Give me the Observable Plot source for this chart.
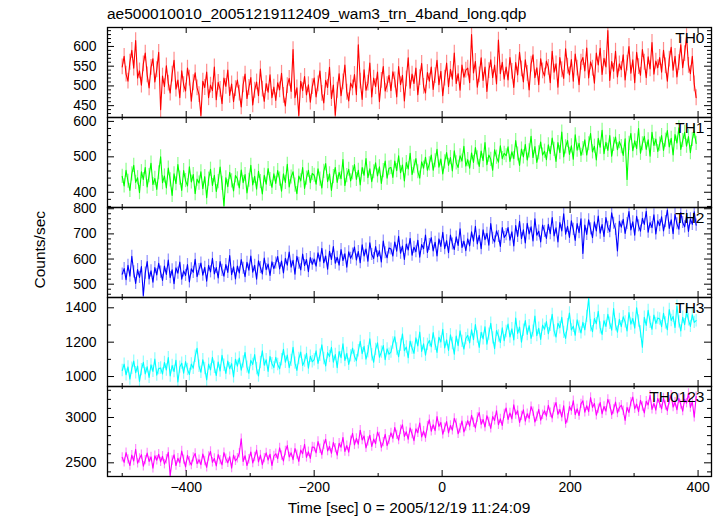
<!DOCTYPE html>
<html><head><meta charset="utf-8">
<script src="https://cdn.jsdelivr.net/npm/d3@7"></script>
<script src="https://cdn.jsdelivr.net/npm/@observablehq/plot@0.6"></script>
<style>
body{margin:0;background:#fff;font-family:"Liberation Sans",Arial,sans-serif;}
#chart{position:relative;width:724px;height:516px;overflow:hidden;background:#fff;}
.panel{position:absolute;left:0;}
.lbl{position:absolute;white-space:nowrap;line-height:1;color:#000;}
</style></head><body><div id="chart"></div>
<script>
const title = "ae500010010_20051219112409_wam3_trn_4band_long.qdp";
const xLabel = "Time [sec] 0 = 2005/12/19 11:24:09";
const yLabel = "Counts/sec";
const bands = ["TH0", "TH1", "TH2", "TH3", "TH0123"];
const colors = ["#ff0000", "#00ff00", "#0000ff", "#00ffff", "#ff00ff"];
const binStart = -500, binStep = 3;

const th0 = [
548,575,530,512,560,590,545,615,520,538,502,556,583,528,495,547,569,510,541,585,
440,525,498,551,507,482,530,565,492,515,470,538,503,487,545,520,461,508,533,495,
478,425,512,496,535,470,502,488,548,465,509,491,455,520,499,540,476,505,460,493,
515,482,447,503,530,468,496,521,452,489,510,475,543,492,461,506,484,528,470,497,
463,508,490,532,476,449,501,519,486,592,470,495,425,512,488,524,477,503,459,498,
520,472,505,538,481,457,514,496,547,468,502,426,489,531,475,510,553,484,462,507,
495,529,478,604,512,466,541,489,507,558,472,520,498,535,460,514,549,487,503,527,
488,536,515,472,549,503,527,462,518,571,494,530,506,545,478,521,557,499,482,534,
512,548,491,526,565,503,537,475,520,558,498,542,517,583,506,531,489,553,522,540,
545,508,630,533,562,497,528,571,514,548,486,539,566,521,553,505,616,531,560,517,
548,515,572,537,496,559,528,585,543,510,566,532,490,555,579,521,546,503,569,538,
525,563,547,508,588,535,556,497,572,541,519,594,550,528,567,512,581,545,503,560,
572,538,596,520,561,545,507,583,553,595,529,570,548,640,514,562,537,588,523,556,
541,579,515,558,600,532,566,508,585,549,527,592,560,521,574,543,610,530,563,546,
572,535,590,551,512,568,598,540,575,523,559,604,546,582,625,552,531,575,505,470];
const th1 = [
445,418,462,431,405,452,476,428,441,399,458,436,470,415,447,482,422,439,408,455,
500,427,446,412,468,435,391,452,424,478,440,405,461,433,418,472,429,450,396,437,
426,458,410,444,385,437,465,419,448,402,430,471,425,362,441,416,456,432,404,447,
438,412,463,427,450,398,434,476,421,445,409,459,430,395,448,423,467,436,414,452,
425,461,437,403,452,428,479,415,443,458,420,396,446,432,470,411,440,462,427,453,
448,423,466,437,412,459,481,430,452,405,444,470,428,456,438,492,419,447,465,432,
455,478,436,462,421,470,448,495,441,466,430,458,483,446,472,425,461,488,440,468,
470,442,488,461,503,455,477,432,484,466,510,450,472,495,458,440,486,468,499,462,
480,505,462,489,521,471,494,452,486,512,476,498,460,517,483,470,503,488,530,474,
492,468,511,484,526,497,473,516,489,540,478,505,493,462,520,499,485,531,495,510,
503,528,487,514,495,546,508,476,522,500,535,491,517,558,498,529,484,511,542,505,
516,492,534,509,553,521,487,540,512,570,500,528,546,507,531,493,562,519,538,504,
523,548,505,537,566,514,530,491,552,527,575,509,541,518,560,502,535,556,520,543,
529,504,551,436,538,566,517,545,523,580,510,537,558,521,548,502,569,532,550,515,
536,560,518,547,574,528,552,505,563,539,582,521,546,569,530,557,512,549,571,538];
const th2 = [
540,562,518,575,532,611,549,503,558,527,570,455,544,590,521,553,508,566,537,583,
548,515,572,539,596,526,557,502,565,544,588,520,553,535,578,509,561,547,599,530,
558,584,536,567,512,575,549,603,541,566,525,590,555,532,578,547,614,538,569,521,
572,545,598,563,530,587,556,612,548,575,520,593,566,541,604,558,580,535,589,562,
584,610,561,592,545,603,576,628,568,595,540,611,583,557,620,574,598,550,606,579,
600,572,625,591,643,585,612,560,631,598,650,583,607,576,638,594,621,568,629,603,
620,648,596,630,585,657,612,640,591,665,618,602,650,609,633,588,672,625,605,644,
640,612,668,631,690,623,652,598,660,636,682,615,647,629,675,607,658,641,695,626,
658,685,632,667,612,680,650,706,641,673,625,695,660,638,688,654,720,646,671,633,
680,652,708,671,730,660,694,641,716,677,702,655,741,683,668,712,690,650,725,686,
697,725,675,708,652,733,690,750,681,716,664,742,700,728,672,760,695,711,668,735,
710,682,738,701,765,692,724,668,745,712,780,699,730,686,752,718,674,741,705,760,
622,735,698,756,720,685,748,712,771,703,737,690,765,726,709,784,742,718,632,750,
727,758,702,741,789,716,748,695,770,732,711,762,738,790,707,745,725,776,700,752,
733,768,712,749,795,722,756,701,778,740,719,785,745,728,771,710,760,738,788,735];
const th3 = [
1035,1072,1010,1056,985,1048,1090,1022,1061,972,1040,1083,1015,1057,995,1068,1030,1102,1008,1046,
1050,1015,1082,1038,1110,1003,1064,1029,1095,968,1055,1078,1020,1087,1041,1012,1073,1048,1118,1165,
1060,1025,1098,1047,980,1072,1039,1112,1054,1006,1085,1032,1123,1066,1018,1090,1045,1075,998,1101,
1060,1108,1037,1085,1140,1055,1019,1094,1070,1128,1046,1003,1082,1150,1066,1098,1030,1117,1075,1052,
1112,1070,1045,1098,1158,1083,1125,1052,1094,1170,1078,1036,1105,1142,1064,1090,1135,1049,1118,1086,
1098,1150,1076,1124,1185,1105,1062,1139,1117,1170,1084,1128,1052,1146,1110,1191,1093,1135,1071,1120,
1165,1118,1092,1150,1205,1133,1176,1101,1144,1220,1127,1083,1158,1196,1112,1142,1180,1098,1161,1130,
1142,1195,1231,1160,1115,1183,1248,1150,1172,1109,1206,1166,1135,1225,1178,1259,1146,1190,1124,1187,
1210,1173,1256,1188,1140,1229,1201,1275,1167,1214,1152,1243,1192,1130,1235,1180,1266,1205,1160,1221,
1240,1196,1272,1214,1303,1230,1170,1258,1219,1290,1188,1247,1310,1225,1162,1268,1236,1198,1284,1209,
1262,1305,1230,1278,1213,1340,1251,1288,1200,1270,1326,1245,1296,1222,1264,1352,1238,1281,1216,1299,
1275,1320,1249,1298,1362,1266,1230,1310,1284,1345,1257,1222,1302,1370,1271,1293,1240,1330,1288,1254,
1315,1272,1350,1455,1296,1261,1338,1307,1380,1283,1245,1325,1292,1362,1310,1270,1395,1301,1258,1333,
1290,1348,1318,1265,1372,1305,1338,1282,1400,1323,1260,1170,1345,1298,1385,1315,1275,1358,1309,1340,
1335,1290,1368,1312,1272,1390,1326,1350,1285,1410,1318,1265,1345,1302,1376,1330,1292,1360,1315,1325];
const th0123 = [
2560,2505,2612,2538,2470,2585,2520,2650,2495,2548,2590,2462,2530,2608,2515,2565,2440,2577,2528,2595,
2510,2572,2485,2540,2615,2360,2525,2588,2470,2550,2500,2630,2535,2455,2582,2518,2475,2560,2602,2490,
2535,2480,2598,2520,2450,2570,2625,2505,2548,2465,2590,2530,2478,2612,2545,2500,2568,2442,2585,2522,
2550,2605,2765,2515,2578,2470,2540,2620,2498,2565,2640,2510,2585,2480,2552,2610,2530,2595,2470,2575,
2600,2545,2665,2580,2520,2630,2690,2565,2610,2535,2658,2590,2515,2640,2600,2705,2560,2622,2548,2675,
2670,2610,2735,2655,2590,2700,2760,2630,2680,2605,2725,2662,2585,2715,2672,2780,2625,2690,2618,2745,
2825,2698,2770,2705,2860,2752,2795,2665,2738,2805,2680,2762,2710,2840,2785,2670,2728,2815,2690,2750,
2830,2770,2890,2808,2750,2865,2920,2790,2842,2760,2885,2818,2745,2875,2832,2940,2785,2850,2778,2905,
2975,2848,2920,2855,3010,2902,2945,2815,2888,2955,2830,2912,2860,2990,2935,2820,2878,2962,2840,2900,
2965,2905,3025,2942,2885,3000,3055,2925,2978,2895,3020,2952,2880,3010,2968,3075,2920,2985,2912,3040,
3105,2978,3050,2985,3140,3032,3075,2945,3018,3085,2960,3042,2990,3120,3065,2950,3008,3090,2970,3030,
3075,3015,3135,3052,2995,3110,3165,3035,3088,3005,3130,2934,2990,3120,3078,3185,3030,3095,3022,3150,
3185,3058,3130,3065,3220,3112,3155,3025,3098,3165,3040,3122,3070,3200,3145,3030,3088,3170,3050,3110,
3135,3075,2967,3112,3055,3170,3225,3095,3148,3065,3190,3122,3050,3180,3138,3245,3090,3155,3082,3210,
3155,3095,3215,3132,3075,3190,3245,3115,3168,3085,3210,3142,3070,3200,3158,3265,3110,3175,3003,3230];
const errors = [20, 20, 24, 36, 52];

const yDomains = [[420, 648], [357, 611], [447, 805], [942, 1460], [2349, 3342]];
const yMajor = [[450, 500, 550, 600], [400, 500, 600], [500, 600, 700, 800], [1000, 1200, 1400], [2500, 3000]];
const yMinorStep = [10, 20, 20, 100, 100];
const xDomain = [-523, 421];
const xMajor = [-400, -200, 0, 200, 400];
const xMinor = [-500, -300, -100, 100, 300];

const series = [th0, th1, th2, th3, th0123];
const tops = [27, 117, 207, 297, 386];
const bottoms = [117, 207, 297, 386, 476];
const W = 724, ML = 107, MR = 13, innerW = W - ML - MR;
const fmt = d3.format("d");
const chart = document.getElementById("chart");

series.forEach((vals, i) => {
  const H = bottoms[i] - tops[i];
  const last = i === series.length - 1;
  const mt = 14, mb = last ? 40 : 14;
  const rows = vals.map((v, j) => ({t: binStart + j * binStep, v, e: errors[i]}));
  const [lo, hi] = yDomains[i];
  const step = yMinorStep[i];
  const major = yMajor[i];
  const minor = d3.range(Math.ceil(lo / step) * step, hi, step).filter(d => !major.includes(d));
  const col = colors[i];
  const marks = [
    Plot.ruleX(rows, {x: "t", y1: d => d.v - d.e, y2: d => d.v + d.e, stroke: col, strokeOpacity: 0.45, strokeWidth: 1.2, clip: true}),
    Plot.line(rows, {x: "t", y: "v", stroke: col, strokeWidth: 1.1, clip: true}),
    Plot.ruleX(xMajor, {x: d => d, insetTop: H - 6, stroke: "black"}),
    Plot.ruleX(xMajor, {x: d => d, insetBottom: H - 6, stroke: "black"}),
    Plot.ruleX(xMinor, {x: d => d, insetTop: H - 3, stroke: "black"}),
    Plot.ruleX(xMinor, {x: d => d, insetBottom: H - 3, stroke: "black"}),
    Plot.ruleY(major, {y: d => d, insetRight: innerW - 7, stroke: "black"}),
    Plot.ruleY(major, {y: d => d, insetLeft: innerW - 7, stroke: "black"}),
    Plot.ruleY(minor, {y: d => d, insetRight: innerW - 4, stroke: "black"}),
    Plot.ruleY(minor, {y: d => d, insetLeft: innerW - 4, stroke: "black"}),
    Plot.text([bands[i]], {text: d => d, frameAnchor: "top-right", dx: -7, dy: 4, lineAnchor: "top", textAnchor: "end", fontSize: 15.5, fill: "black"}),
    Plot.frame({stroke: "black", strokeWidth: 1.3}),
    Plot.axisY(major, {anchor: "left", tickSize: 0, tickPadding: 11, tickFormat: fmt, fontSize: 14, label: null})
  ];
  if (last) marks.push(Plot.axisX(xMajor, {anchor: "bottom", tickSize: 0, tickPadding: 6, tickFormat: fmt, fontSize: 14, label: null}));
  const svg = Plot.plot({
    width: W, height: H + mt + mb,
    marginLeft: ML, marginRight: MR, marginTop: mt, marginBottom: mb,
    x: {domain: xDomain, axis: null},
    y: {domain: yDomains[i], axis: null},
    style: {background: "transparent", overflow: "visible", fontFamily: "'Liberation Sans', Arial, sans-serif", fontSize: "14px", color: "black"},
    marks
  });
  svg.classList.add("panel");
  svg.style.top = (tops[i] - mt) + "px";
  chart.appendChild(svg);
});

function addLabel(text, css) {
  const d = document.createElement("div");
  d.className = "lbl";
  d.textContent = text;
  Object.assign(d.style, css);
  chart.appendChild(d);
}
addLabel(title, {left: "107px", top: "6px", fontSize: "15.5px"});
addLabel(xLabel, {left: "409px", top: "500px", fontSize: "15.5px", transform: "translateX(-50%)"});
addLabel(yLabel, {left: "-60px", top: "242px", width: "200px", textAlign: "center", fontSize: "15.5px", transform: "rotate(-90deg)"});
</script>
</body></html>
